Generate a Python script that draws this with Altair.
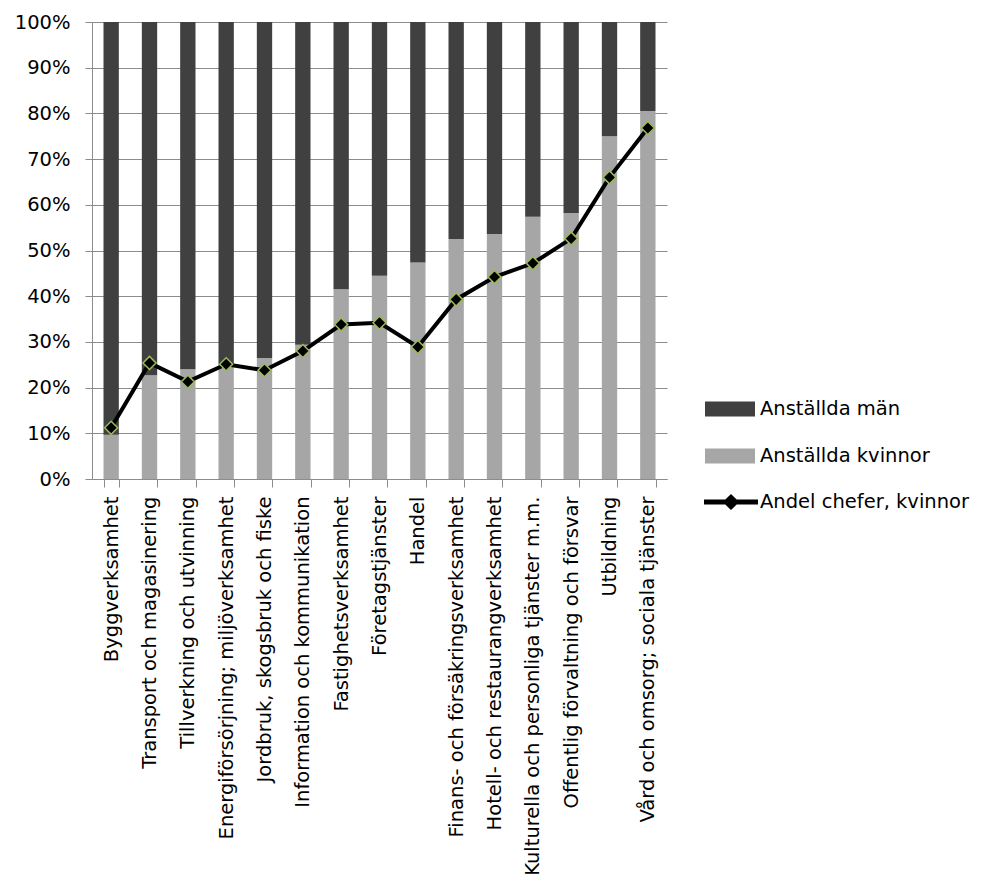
import altair as alt
import pandas as pd

categories = [
    "Byggverksamhet",
    "Transport och magasinering",
    "Tillverkning och utvinning",
    "Energiförsörjning; miljöverksamhet",
    "Jordbruk, skogsbruk och fiske",
    "Information och kommunikation",
    "Fastighetsverksamhet",
    "Företagstjänster",
    "Handel",
    "Finans- och försäkringsverksamhet",
    "Hotell- och restaurangverksamhet",
    "Kulturella och personliga tjänster m.m.",
    "Offentlig förvaltning och försvar",
    "Utbildning",
    "Vård och omsorg; sociala tjänster",
]
women = [9.7, 22.7, 24.0, 25.0, 26.5, 29.4, 41.5, 44.5, 47.4, 52.5, 53.6, 57.4, 58.2, 75.0, 80.5]
men = [90.3, 77.3, 76.0, 75.0, 73.5, 70.6, 58.5, 55.5, 52.6, 47.5, 46.4, 42.6, 41.8, 25.0, 19.5]
managers_women = [11.2, 25.4, 21.3, 25.1, 23.8, 28.0, 33.8, 34.2, 28.9, 39.3, 44.2, 47.2, 52.6, 66.0, 76.8]
y_ticks = [0, 10, 20, 30, 40, 50, 60, 70, 80, 90, 100]

bar_groups = ["Anställda män", "Anställda kvinnor"]
line_name = "Andel chefer, kvinnor"

rows = []
for c, w, m in zip(categories, women, men):
    rows.append({"kategori": c, "grupp": "Anställda kvinnor", "andel": w, "ord": 0})
    rows.append({"kategori": c, "grupp": "Anställda män", "andel": m, "ord": 1})
df_bars = pd.DataFrame(rows)
df_line = pd.DataFrame({"kategori": categories, "andel": managers_women, "serie": line_name})

GRID = "#8c8c8c"
FONT = "DejaVu Sans"
FS = 19.5

x_enc = alt.X(
    "kategori:N",
    sort=categories,
    scale=alt.Scale(paddingInner=0.6, paddingOuter=0.3),
    axis=alt.Axis(
        title=None, labelAngle=-90, tickBand="extent", labelLimit=600,
        labelFontSize=FS, labelPadding=9, tickSize=8, tickColor=GRID,
        domainColor=GRID, labelColor="black", grid=False,
    ),
)
y_scale = alt.Scale(domain=[0, 100], nice=False)
y_axis = alt.Axis(
    title=None, values=y_ticks, labelExpr="datum.value + '%'",
    grid=True, gridColor=GRID, gridWidth=1, gridOpacity=1,
    tickSize=7, tickColor=GRID, domainColor=GRID,
    labelFontSize=FS, labelPadding=15, labelColor="black",
)

bars = alt.Chart(df_bars).mark_bar().encode(
    x=x_enc,
    y=alt.Y("andel:Q", stack="zero", scale=y_scale, axis=y_axis),
    color=alt.Color(
        "grupp:N",
        scale=alt.Scale(domain=bar_groups, range=["#404040", "#a6a6a6"]),
        legend=alt.Legend(
            title=None, orient="none", legendX=613, legendY=362,
            symbolType="M-1,-0.3H1V0.3H-1Z", symbolSize=2500,
            symbolStrokeWidth=0, labelFontSize=FS, labelOffset=5,
            rowPadding=12, padding=0, labelColor="black", labelLimit=400,
        ),
    ),
    order=alt.Order("ord:Q"),
)

line = alt.Chart(df_line).mark_line(color="black", strokeWidth=4).encode(
    x=x_enc,
    y=alt.Y("andel:Q", scale=y_scale, axis=y_axis),
)

points = alt.Chart(df_line).mark_point(
    shape="diamond", filled=True, size=170, stroke="#9BBB59", strokeWidth=1.5, opacity=1
).encode(
    x=x_enc,
    y=alt.Y("andel:Q", scale=y_scale, axis=y_axis),
    color=alt.Color(
        "serie:N",
        scale=alt.Scale(domain=[line_name], range=["black"]),
        legend=alt.Legend(
            title=None, orient="none", legendX=612, legendY=453,
            symbolType="M-1,-0.09H-0.21L0,-0.3L0.21,-0.09H1V0.09H0.21L0,0.3L-0.21,0.09H-1Z",
            symbolSize=2916, symbolFillColor="black", symbolStrokeColor="#9BBB59",
            symbolStrokeWidth=0, labelFontSize=FS, labelOffset=2, padding=0,
            labelColor="black", labelLimit=400,
        ),
    ),
)

chart = (
    alt.layer(bars, line, points)
    .resolve_scale(color="independent")
    .resolve_legend(color="independent")
    .properties(width=575, height=457, padding={"left": 6, "top": 4, "right": 5, "bottom": 5})
    .configure(font=FONT)
    .configure_axisY(grid=True, gridColor=GRID, gridWidth=1)
    .configure_view(stroke=None)
)

chart.save("out.html", embed_options={"renderer": "svg", "actions": False})
